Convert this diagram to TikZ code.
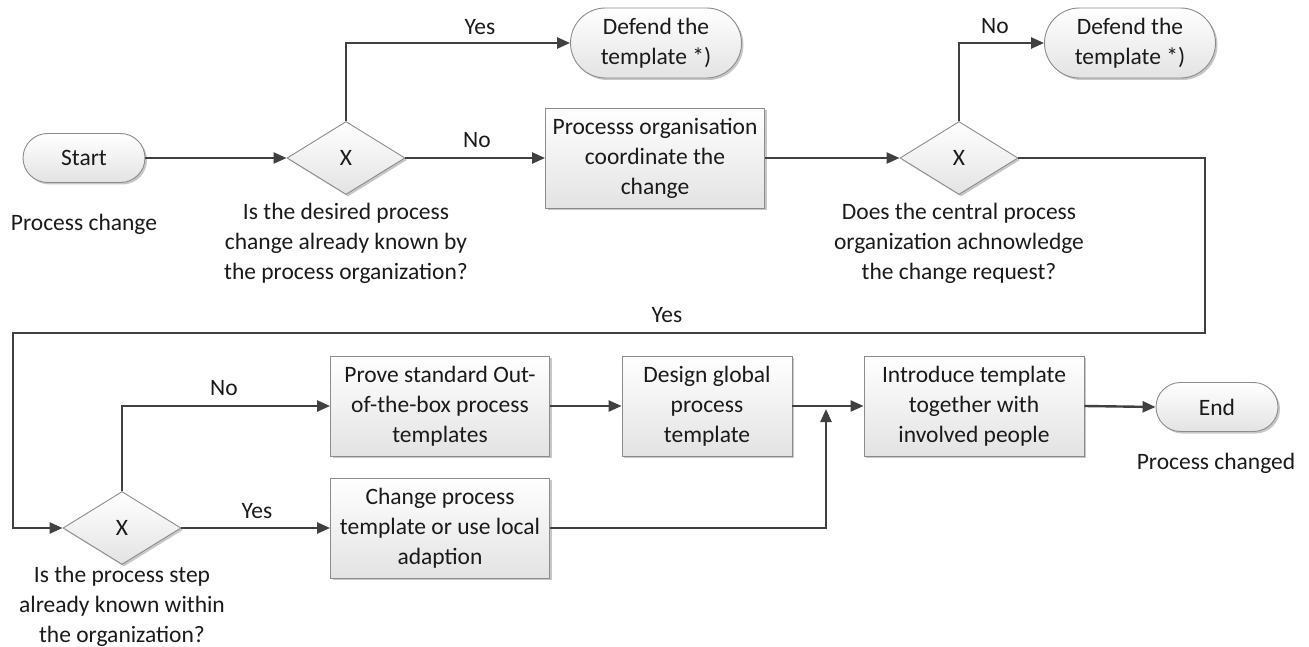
\documentclass[tikz,border=0pt]{standalone}
\usepackage{fontspec}
\setmainfont{Carlito}
\usetikzlibrary{shapes.geometric,arrows.meta,shadows}
\definecolor{linec}{HTML}{404040}
\definecolor{borderc}{HTML}{8C8C8C}
\definecolor{txt}{HTML}{1A1A1A}
\tikzset{
  base/.style={draw=borderc, line width=0.9pt, top color=white, bottom color=black!11,
    text=txt, align=center, inner sep=0pt,
    drop shadow={shadow xshift=2pt, shadow yshift=-2pt, opacity=0.22, fill=black}},
  term/.style={base, minimum width=#1, minimum height=49pt, rounded corners=24.5pt},
  defend/.style={base, minimum width=171pt, minimum height=70pt, rounded corners=35pt},
  task/.style={base, minimum width=#1, minimum height=100pt},
  gate/.style={base, diamond, aspect=1.62, minimum width=118pt, minimum height=73pt},
  lbl/.style={text=txt, align=center, inner sep=0pt},
  flow/.style={draw=linec, line width=2.4pt, -{Triangle[length=13pt,width=11pt]}},
  plain/.style={draw=linec, line width=2.4pt},
}
\begin{document}
\begin{tikzpicture}[x=1pt,y=-1pt,font=\fontsize{23.5}{30}\selectfont]
\useasboundingbox (0,0) rectangle (1309,647);

% nodes
\node[term=122pt] (start) at (84,158) {Start};
\node[lbl] (startlbl) at (84,224) {Process change};

\node[gate] (d1) at (346,158) {X};
\node[lbl] (q1) at (346,243) {Is the desired process\\change already known by\\the process organization?};

\node[defend] (def1) at (656,43) {Defend the\\template *)};
\node[task=219pt] (proc) at (655,158) {Processs organisation\\coordinate the\\change};

\node[gate] (d2) at (959,158) {X};
\node[lbl] (q2) at (959,243) {Does the central process\\organization achnowledge\\the change request?};
\node[defend] (def2) at (1130,43) {Defend the\\template *)};

\node[gate] (d3) at (122,528) {X};
\node[lbl] (q3) at (122,606) {Is the process step\\already known within\\the organization?};

\node[task=219pt] (prove) at (440,406) {Prove standard Out-\\of-the-box process\\templates};
\node[task=219pt] (change) at (440,528) {Change process\\template or use local\\adaption};
\node[task=170pt] (design) at (707,406) {Design global\\process\\template};
\node[task=220pt] (intro) at (974,406) {Introduce template\\together with\\involved people};
\node[term=122pt] (end) at (1217,407) {End};
\node[lbl] (endlbl) at (1216,463) {Process changed};

% edge labels
\node[lbl] (yes1) at (480,27) {Yes};
\node[lbl] (no1) at (477,140) {No};
\node[lbl] (no2) at (995,26) {No};
\node[lbl] (yes2) at (667,315) {Yes};
\node[lbl] (no3) at (224,388) {No};
\node[lbl] (yes3) at (257,511) {Yes};

\coordinate (c1) at (1205,333);
\coordinate (c2) at (13,333);
\coordinate (j) at (826,409);

% connectors
\draw[flow] (start.east) -- (d1.west);
\draw[flow] (d1.north) |- (def1.west);
\draw[flow] (d1.east) -- (proc.west);
\draw[flow] (proc.east) -- (d2.west);
\draw[flow] (d2.north) |- (def2.west);
\draw[flow] (d2.east) -| (c1) -- (c2) |- (d3.west);
\draw[flow] (d3.north) |- (prove.west);
\draw[flow] (d3.east) -- (change.west);
\draw[flow] (prove.east) -- (design.west);
\draw[flow] (change.east) -| (j);
\draw[flow] (design.east) -- (intro.west);
\draw[flow] (intro.east) -- (end.west);
\end{tikzpicture}
\end{document}
